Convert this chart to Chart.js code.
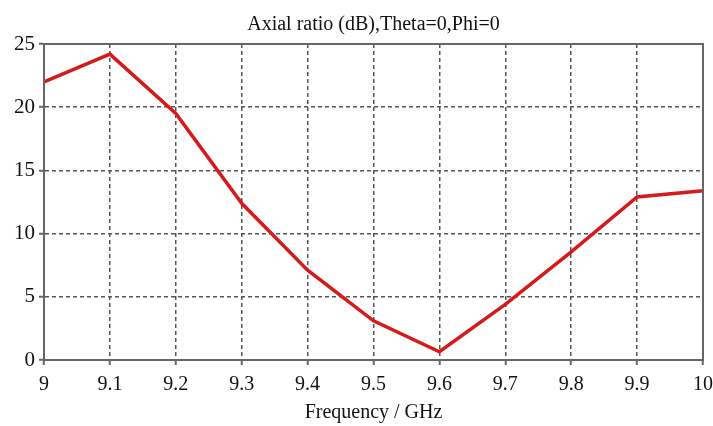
<!DOCTYPE html>
<html>
<head>
<meta charset="utf-8">
<script src="https://cdn.jsdelivr.net/npm/chart.js@4"></script>
<style>
  html, body { margin: 0; padding: 0; background: #fff; }
  #wrap { width: 713px; height: 426px; }
</style>
</head>
<body>
<div id="wrap"><canvas id="chart1"></canvas></div>
<script>
const freqs = [9, 9.1, 9.2, 9.3, 9.4, 9.5, 9.6, 9.7, 9.8, 9.9, 10];
const axialRatio = [22.0, 24.2, 19.5, 12.4, 7.1, 3.1, 0.65, 4.4, 8.55, 12.9, 13.4];

const serif = '"Liberation Serif", "DejaVu Serif", serif';

// solid box round the plot area (top + right edges)
const boxPlugin = {
  id: 'box',
  afterDraw(chart) {
    const a = chart.chartArea;
    const ctx = chart.ctx;
    ctx.save();
    ctx.strokeStyle = '#666';
    ctx.lineWidth = 2;
    ctx.strokeRect(a.left, a.top, a.right - a.left, a.bottom - a.top);
    ctx.restore();
  }
};

const data = {
  datasets: [
    {
      label: 'Axial ratio',
      data: freqs.map((f, i) => ({ x: f, y: axialRatio[i] })),
      borderColor: '#d41a1a',
      borderWidth: 3.5,
      pointRadius: 0,
      tension: 0
    }
  ]
};

const gridOpts = {
  color: '#555',
  lineWidth: 1.5,
  tickLength: 5,
  tickColor: '#666',
  tickWidth: 2,
  tickBorderDash: []
};

const config = {
  type: 'line',
  data: data,
  options: {
    responsive: true,
    maintainAspectRatio: false,
    animation: false,
    layout: { padding: { left: 0, right: 10, top: 0, bottom: 0 } },
    plugins: {
      legend: { display: false },
      tooltip: { enabled: false },
      title: {
        display: true,
        fullSize: false,
        text: 'Axial ratio (dB),Theta=0,Phi=0',
        color: '#111',
        font: { family: serif, size: 20, weight: 'normal', lineHeight: 1.2 },
        padding: { top: 13, bottom: 7 }
      }
    },
    scales: {
      x: {
        type: 'linear',
        min: 9,
        max: 10,
        afterFit: s => { s.height = 66; s.paddingRight = 10; },
        ticks: {
          stepSize: 0.1,
          padding: 8,
          color: '#111',
          font: { family: serif, size: 20 },
          maxRotation: 0,
          callback: v => String(parseFloat(v.toFixed(1)))
        },
        grid: gridOpts,
        border: { display: true, color: '#666', width: 2, dash: [4, 3] },
        title: {
          display: true,
          text: 'Frequency / GHz',
          color: '#111',
          font: { family: serif, size: 20 },
          padding: { top: 0, bottom: 1 }
        }
      },
      y: {
        min: 0,
        max: 25,
        afterFit: s => { s.width = 44; },
        ticks: {
          stepSize: 5,
          padding: 4,
          color: '#111',
          font: { family: serif, size: 21 }
        },
        grid: gridOpts,
        border: { display: true, color: '#666', width: 2, dash: [4, 3] }
      }
    }
  },
  plugins: [boxPlugin]
};

var chart = new Chart(document.getElementById('chart1').getContext('2d'), config);
</script>
</body>
</html>
